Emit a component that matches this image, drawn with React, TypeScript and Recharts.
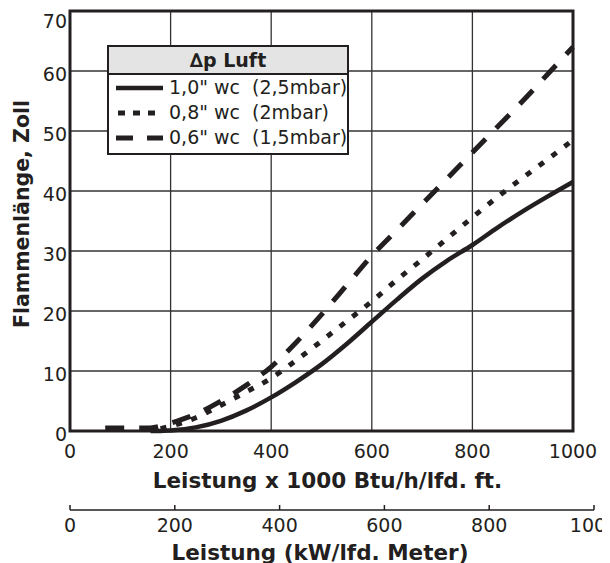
import React from 'react';
import { LineChart, Line, XAxis, YAxis, CartesianGrid, ReferenceArea, Legend } from 'recharts';

// ---- data ----
const xValues = [70, 100, 130, 160, 180, 200, 250, 300, 350, 400, 450, 500, 550, 600, 650, 700, 750, 800, 850, 900, 950, 1000];
const solid10 = [null, null, null, 0.0, 0.0, 0.1, 0.6, 1.7, 3.4, 5.6, 8.2, 11.1, 14.5, 18.2, 21.9, 25.4, 28.4, 31.0, 33.9, 36.6, 39.1, 41.5];
const dotted08 = [null, null, null, null, 0.4, 0.8, 2.2, 4.3, 6.5, 8.8, 11.8, 15.0, 18.3, 21.6, 25.2, 28.6, 32.1, 35.6, 39.0, 42.2, 45.3, 48.5];
const dashed06 = [0.5, 0.5, 0.5, 0.5, 0.8, 1.3, 2.8, 5.0, 7.6, 10.7, 14.8, 19.4, 24.3, 29.2, 33.5, 37.8, 42.1, 46.4, 50.7, 55.0, 59.5, 64.0];

const yTicks = [0, 10, 20, 30, 40, 50, 60, 70];
const xTicks = [0, 200, 400, 600, 800, 1000];
const kwTicks = [0, 200, 400, 600, 800, 1000];

const seriesLabels = ['1,0" wc  (2,5mbar)', '0,8" wc  (2mbar)', '0,6" wc  (1,5mbar)'];
const legendTitle = '\u2206p Luft';
const yTitle = 'Flammenlänge, Zoll';
const xTitle = 'Leistung x 1000 Btu/h/lfd. ft.';
const x2Title = 'Leistung (kW/lfd. Meter)';

const data = xValues.map((x, i) => ({ x, s10: solid10[i], s08: dotted08[i], s06: dashed06[i] }));
const kwData = kwTicks.map((kw) => ({ kw }));

const ink = '#231f20';
const font = '"DejaVu Sans", sans-serif';
const tickFont = 19;
const titleFont = 21.5;

const series = [
  { key: 's10', label: seriesLabels[0], dash: undefined as string | undefined, width: 4.5, legendDash: undefined as string | undefined, legendOffset: 0 },
  { key: 's08', label: seriesLabels[1], dash: '6 10', width: 5, legendDash: '7 8', legendOffset: -2 },
  { key: 's06', label: seriesLabels[2], dash: '19 15', width: 5, legendDash: '17 14', legendOffset: 0 },
];

const YTick = (props: any) => {
  const { x, y, payload } = props;
  const dy = payload.value === 70 ? 10 : 3;
  return (
    <text x={x} y={y + dy} textAnchor="end" dominantBaseline="central" fontSize={tickFont} fill={ink} fontFamily={font}>
      {payload.value}
    </text>
  );
};

const KwTick = (props: any) => {
  const { x, y, payload } = props;
  return (
    <g>
      <line x1={x} x2={x} y1={y} y2={y - 5} stroke={ink} strokeWidth={1.5} />
      <text x={x} y={y + 22} textAnchor="middle" fontSize={tickFont} fill={ink} fontFamily={font}>
        {payload.value}
      </text>
    </g>
  );
};

const LegendBox = () => (
  <div
    style={{
      width: 242,
      height: 110,
      boxSizing: 'border-box',
      border: `2px solid ${ink}`,
      background: '#fff',
      fontFamily: font,
      color: ink,
    }}
  >
    <div
      style={{
        height: 26,
        lineHeight: '26px',
        background: '#e4e4e4',
        borderBottom: `2px solid ${ink}`,
        textAlign: 'center',
        fontWeight: 'bold',
        fontSize: 19,
      }}
    >
      {legendTitle}
    </div>
    {series.map((s) => (
      <div key={s.key} style={{ height: 25, display: 'flex', alignItems: 'center' }}>
        <svg width={47} height={10} style={{ marginLeft: 7, marginRight: 6, flex: 'none' }}>
          <line
            x1={0}
            x2={47}
            y1={5}
            y2={5}
            stroke={ink}
            strokeWidth={s.width}
            strokeDasharray={s.legendDash}
            strokeDashoffset={s.legendOffset}
          />
        </svg>
        <span style={{ fontSize: 19, whiteSpace: 'pre', lineHeight: '25px' }}>{s.label}</span>
      </div>
    ))}
  </div>
);

export default function App() {
  return (
    <div style={{ position: 'relative', width: 602, height: 555, fontFamily: font }}>
      <div style={{ position: 'absolute', left: 0, top: 0 }}>
        <LineChart width={602} height={495} data={data} margin={{ top: 3, right: 37, bottom: 0, left: 0 }}>
          <CartesianGrid stroke="#333" strokeWidth={1.3} />
          <XAxis
            dataKey="x"
            type="number"
            domain={[0, 1000]}
            ticks={xTicks}
            interval={0}
            height={72}
            tickSize={0}
            tickMargin={14}
            tickLine={false}
            axisLine={false}
            tick={{ fontSize: tickFont, fill: ink, fontFamily: font }}
            label={(p: any) => {
              const vb = p.viewBox;
              return (
                <text x={vb.x + vb.width / 2 + 6} y={vb.y + 57} textAnchor="middle" fontSize={titleFont} fontWeight="bold" fill={ink} fontFamily={font}>
                  {xTitle}
                </text>
              );
            }}
          />
          <YAxis
            type="number"
            domain={[0, 70]}
            ticks={yTicks}
            interval={0}
            width={62}
            tickSize={0}
            tickMargin={3}
            tickLine={false}
            axisLine={false}
            tick={<YTick />}
            label={(p: any) => {
              const vb = p.viewBox;
              const cx = vb.x + 14;
              const cy = vb.y + 203;
              return (
                <text x={cx} y={cy} transform={`rotate(-90, ${cx}, ${cy})`} textAnchor="middle" dominantBaseline="central" fontSize={20.5} fontWeight="bold" fill={ink} fontFamily={font}>
                  {yTitle}
                </text>
              );
            }}
          />
          <ReferenceArea x1={0} x2={1000} y1={0} y2={70} fill="none" fillOpacity={0} stroke={ink} strokeWidth={3} />
          {series.map((s) => (
            <Line
              key={s.key}
              type="monotone"
              dataKey={s.key}
              stroke={ink}
              strokeWidth={s.width}
              strokeDasharray={s.dash}
              strokeLinecap="butt"
              dot={false}
              activeDot={false}
              isAnimationActive={false}
              connectNulls={false}
              name={s.label}
            />
          ))}
          <Legend
            layout="horizontal"
            verticalAlign="middle"
            align="center"
            content={() => <LegendBox />}
            wrapperStyle={{ left: 99, top: 37, width: 242, height: 110 }}
          />
        </LineChart>
      </div>
      <div style={{ position: 'absolute', left: 0, top: 495 }}>
        <LineChart width={602} height={60} data={kwData} margin={{ top: 0, right: 16, bottom: 0, left: 62 }}>
          <XAxis
            dataKey="kw"
            type="number"
            domain={[0, 1000]}
            ticks={kwTicks}
            interval={0}
            height={53}
            tickSize={0}
            tickMargin={0}
            tickLine={false}
            axisLine={{ stroke: ink, strokeWidth: 1.5 }}
            tick={<KwTick />}
            label={(p: any) => {
              const vb = p.viewBox;
              return (
                <text x={vb.x + vb.width / 2 - 12} y={vb.y + 49.5} textAnchor="middle" fontSize={titleFont} fontWeight="bold" fill={ink} fontFamily={font}>
                  {x2Title}
                </text>
              );
            }}
          />
          <YAxis hide domain={[0, 1]} />
        </LineChart>
      </div>
    </div>
  );
}
